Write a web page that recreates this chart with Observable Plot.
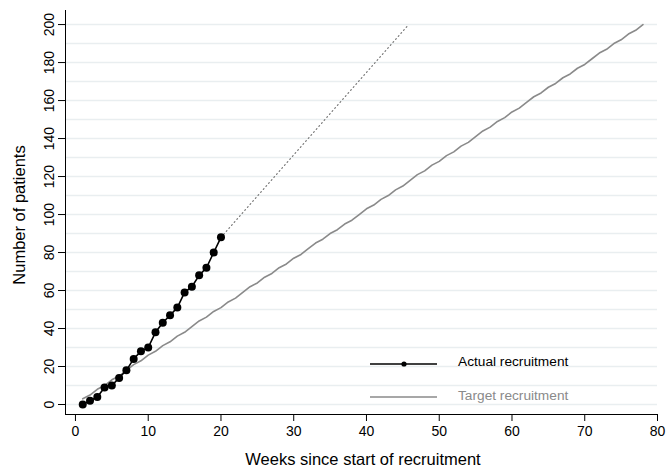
<!DOCTYPE html>
<html>
<head>
<meta charset="utf-8">
<script src="https://cdn.jsdelivr.net/npm/d3@7"></script>
<script src="https://cdn.jsdelivr.net/npm/@observablehq/plot@0.6"></script>
<style>
  html, body { margin: 0; padding: 0; background: #fff; }
  #chart svg { display: block; }
</style>
</head>
<body>
<div id="chart"></div>
<script>
// Actual recruitment (cumulative patients per week)
const actualWeeks = [1,2,3,4,5,6,7,8,9,10,11,12,13,14,15,16,17,18,19,20];
const actualPatients = [0,2,4,9,10,14,18,24,28,30,38,43,47,51,59,62,68,72,80,88];

// Projection of actual rate (dotted)
const projWeeks = [20, 45.8];
const projPatients = [88, 200];

// Target recruitment (cumulative patients per week, weeks 1..78)
const targetPatients = [3,5,8,10,13,15,18,21,23,26,28,31,33,36,38,41,44,46,49,51,
  54,56,59,62,64,67,69,72,74,77,79,82,85,87,90,92,95,97,100,103,
  105,108,110,113,115,118,121,123,126,128,131,133,136,138,141,144,146,149,151,154,
  156,159,162,164,167,169,172,174,177,179,182,185,187,190,192,195,197,200];
const targetWeeks = targetPatients.map((_, i) => i + 1);

const xTicks = [0,10,20,30,40,50,60,70,80];
const yTicks = [0,20,40,60,80,100,120,140,160,180,200];
const yGrid = d3.range(0, 201, 10);

const xTitle = "Weeks since start of recruitment";
const yTitle = "Number of patients";
const legendLabels = ["Actual recruitment", "Target recruitment"];

const actual = actualWeeks.map((w, i) => ({week: w, patients: actualPatients[i]}));
const target = targetWeeks.map((w, i) => ({week: w, patients: targetPatients[i]}));
const proj = projWeeks.map((w, i) => ({week: w, patients: projPatients[i]}));

const W = 668, H = 468;
const mL = 65, mR = 11, mT = 10, mB = 54;

const chart = Plot.plot({
  width: W,
  height: H,
  marginLeft: mL,
  marginRight: mR,
  marginTop: mT,
  marginBottom: mB,
  style: {fontFamily: "'Liberation Sans', Arial, Helvetica, sans-serif", fontSize: "14px", background: "#fff", color: "#000"},
  x: {domain: [-1.37, 80], label: null},
  y: {domain: [-5.26, 207.4], label: null},
  marks: [
    Plot.gridY(yGrid, {stroke: "#e9eef0", strokeOpacity: 1, strokeWidth: 1.5}),
    Plot.line(target, {x: "week", y: "patients", stroke: "#8a8a8a", strokeWidth: 1.6}),
    Plot.line(proj, {x: "week", y: "patients", stroke: "#777", strokeWidth: 1.2, strokeDasharray: "1,3"}),
    Plot.line(actual, {x: "week", y: "patients", stroke: "#000", strokeWidth: 1.6}),
    Plot.dot(actual, {x: "week", y: "patients", r: 4, fill: "#000", stroke: "none"}),
    Plot.axisX(xTicks, {tickSize: 7, tickPadding: 5, fontSize: 14, label: null, stroke: "#000"}),
    Plot.axisY(yTicks, {tickSize: 7, tickPadding: 5, tickRotate: -90, fontSize: 14, label: null, stroke: "#000"}),
    Plot.frame({anchor: "left", stroke: "#000", strokeWidth: 1}),
    Plot.frame({anchor: "bottom", stroke: "#000", strokeWidth: 1})
  ]
});

const svg = d3.select(chart);

// Axis titles
svg.append("text")
  .attr("x", (mL + (W - mR)) / 2 + 2)
  .attr("y", 465)
  .attr("text-anchor", "middle")
  .attr("font-size", 16.5)
  .attr("fill", "#000")
  .text(xTitle);

svg.append("text")
  .attr("transform", `translate(25, ${(mT + (H - mB)) / 2 + 3}) rotate(-90)`)
  .attr("text-anchor", "middle")
  .attr("font-size", 16.5)
  .attr("fill", "#000")
  .text(yTitle);

// Legend (inside plot, lower right)
const lg = svg.append("g").attr("text-anchor", "start");
lg.append("line").attr("x1", 370).attr("x2", 437).attr("y1", 364).attr("y2", 364)
  .attr("stroke", "#000").attr("stroke-width", 1.6);
lg.append("circle").attr("cx", 404).attr("cy", 364).attr("r", 2.6).attr("fill", "#000");
lg.append("text").attr("x", 458).attr("y", 361).attr("dy", "0.35em").attr("text-anchor", "start")
  .attr("font-size", 13.7).attr("fill", "#000").text(legendLabels[0]);
lg.append("line").attr("x1", 370).attr("x2", 437).attr("y1", 397).attr("y2", 397)
  .attr("stroke", "#8a8a8a").attr("stroke-width", 1.6);
lg.append("text").attr("x", 458).attr("y", 395).attr("dy", "0.35em").attr("text-anchor", "start")
  .attr("font-size", 13.7).attr("fill", "#8a8a8a").text(legendLabels[1]);

document.getElementById("chart").appendChild(chart);
</script>
</body>
</html>
